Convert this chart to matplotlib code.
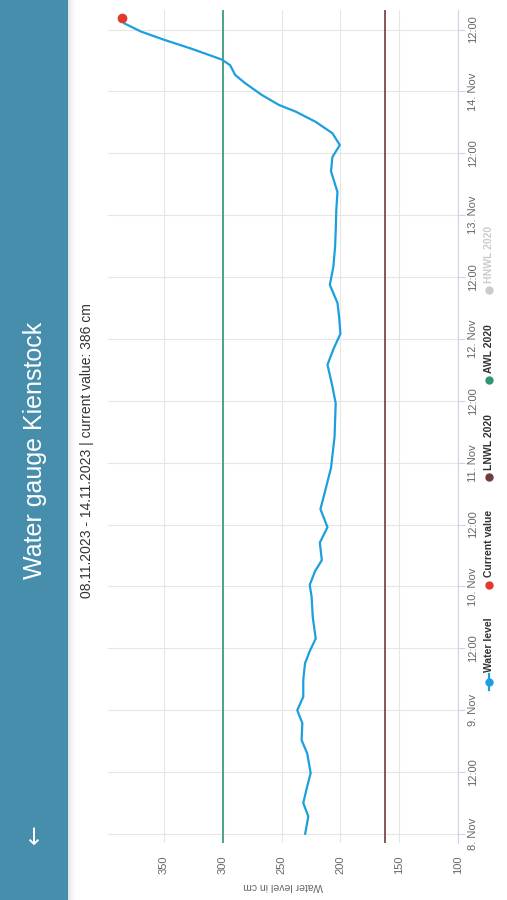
import numpy as np
import pandas as pd
import matplotlib
matplotlib.use("Agg")
import matplotlib.pyplot as plt
from matplotlib.lines import Line2D
from matplotlib.patches import Rectangle

plt.rcParams['font.family'] = ['Liberation Sans', 'DejaVu Sans']

# water level readings, hours after 08.11.2023 00:00
hours = [0, 3.4, 6, 9, 11.8, 15.6, 18.2, 21.5, 24, 26.6, 29.9, 33.1, 35.5, 37.9,
         42, 46, 48.3, 51, 53.1, 56.5, 59.5, 63, 66.5, 71, 77, 83.5, 87, 91, 94,
         97, 100, 103, 106.5, 110, 114, 117, 121, 124.5, 128.5, 131.3, 133.6,
         135.9, 138.1, 140.1, 141.4, 143.3, 145.6, 147.2, 149.1, 150.2, 152.3,
         154, 155.6, 157.2, 158.2]
level = [230, 227.3, 231.6, 228.5, 225.3, 228.2, 233, 232.4, 236.7, 231.6, 231.6,
         230.1, 226, 221, 223.5, 224.5, 226.1, 221.5, 215.8, 217.5, 211, 217, 213,
         208, 205, 204, 207, 211, 206, 200, 201, 202.5, 209, 206, 204.5, 204,
         203.5, 202.5, 208, 206.8, 200.5, 206.8, 221, 238.1, 252.4, 266.7, 281,
         289.5, 293.8, 301, 326.8, 349.6, 369.4, 383.8, 386]
current_value = 386
awl_2020 = 300
lnwl_2020 = 162

value_ticks = [100, 150, 200, 250, 300, 350]
time_labels = ['8. Nov', '12:00', '9. Nov', '12:00', '10. Nov', '12:00', '11. Nov',
               '12:00', '12. Nov', '12:00', '13. Nov', '12:00', '14. Nov', '12:00']
legend_names = ['Water level', 'Current value', 'LNWL 2020', 'AWL 2020', 'HNWL 2020']

start = pd.Timestamp('2023-11-08 00:00')
times = start + pd.to_timedelta(hours, unit='h')
tick_times = pd.date_range(start, periods=len(time_labels), freq='12h')

blue = '#1b9fdd'
red = '#df3a2c'
brown = '#6e3d3b'
green = '#2f9577'

W, H = 507, 900
fig = plt.figure(figsize=(W / 100, H / 100), dpi=100)
fig.patch.set_facecolor('white')

# header band (chart is shown turned on its side)
fig.patches.append(Rectangle((0, 0), 68 / W, 1, transform=fig.transFigure,
                             facecolor='#478dac', edgecolor='none', zorder=0))
for i in range(10):
    fig.patches.append(Rectangle(((68 + i) / W, 0), 1 / W, 1, transform=fig.transFigure,
                                 facecolor='black', alpha=0.10 * (1 - i / 10) ** 2,
                                 edgecolor='none', zorder=0))
fig.text(35 / W, 1 - 450 / H, 'Water gauge Kienstock', rotation=90, color='white',
         fontsize=18, ha='center', va='center')
fig.text(35 / W, 1 - 834 / H, '\u2190', rotation=90, color='white', fontsize=17,
         ha='center', va='center', family='DejaVu Sans')
fig.text(87 / W, 1 - 451 / H,
         '08.11.2023 - 14.11.2023 | current value: %d cm' % current_value,
         rotation=90, color='#333333', fontsize=10, ha='center', va='center')

ax = fig.add_axes([107.6 / W, 1 - 843 / H, (458 - 107.6) / W, (843 - 10) / H])
ax.plot(level, times, color=blue, lw=1.6, solid_capstyle='round',
        solid_joinstyle='round', zorder=3)
ax.plot(level[-1], times[-1], 'o', color=red, ms=6, zorder=4)
ax.axvline(awl_2020, color=green, lw=1.2, zorder=2)
ax.axvline(lnwl_2020, color=brown, lw=1.2, zorder=2)

ax.set_xlim(398, 100)
ax.set_ylim(start - pd.Timedelta(hours=1.75), start + pd.Timedelta(hours=159.8))
ax.set_xticks(value_ticks)
ax.set_yticks(tick_times)
ax.set_yticklabels(time_labels)
ax.yaxis.tick_right()
ax.grid(True, color='#e6e6e6', lw=0.8)
ax.set_axisbelow(True)

for s in ['left', 'top', 'bottom']:
    ax.spines[s].set_visible(False)
ax.spines['right'].set_color('#ccd6eb')
ax.spines['right'].set_linewidth(0.8)

ax.tick_params(axis='x', length=0, labelrotation=90, labelsize=8, labelcolor='#666666', pad=9)
ax.tick_params(axis='y', length=5, width=0.8, color='#ccd6eb', labelrotation=90,
               labelsize=8, labelcolor='#666666', pad=2)
for lab in ax.get_yticklabels():
    lab.set_va('center')
ax.set_xlabel('Water level in cm', rotation=180, fontsize=7.5, color='#666666', labelpad=5)

# legend, drawn along the right edge
lx = 489 / W
sym_y = [682, 585, 477, 380, 290]
txt_y = [672, 577, 470, 373, 283]
sym_col = [blue, red, brown, green, '#cccccc']
for name, sy, ty, c in zip(legend_names, sym_y, txt_y, sym_col):
    if name == 'Water level':
        fig.lines.append(Line2D([lx, lx], [1 - (sy + 8) / H, 1 - (sy - 8) / H],
                                transform=fig.transFigure, color=c, lw=1.6))
    fig.lines.append(Line2D([lx], [1 - sy / H], transform=fig.transFigure, marker='o',
                            color=c, ms=5, lw=0))
    fig.text(lx, 1 - ty / H, name, rotation=90, ha='center', va='bottom', fontsize=7.5,
             fontweight='bold', color='#cccccc' if name == 'HNWL 2020' else '#333333')

fig.savefig('out.png', dpi=100)
